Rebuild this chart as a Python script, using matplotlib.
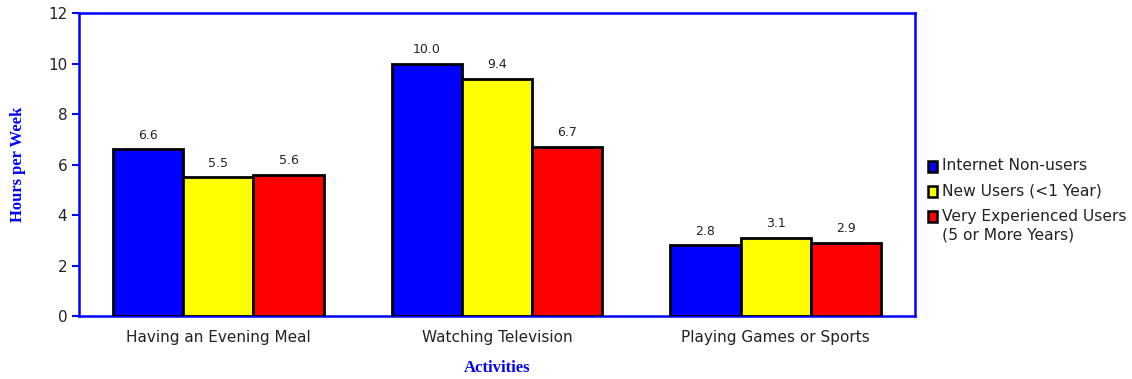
import matplotlib.pyplot as plt
from matplotlib.patches import Rectangle
import numpy as np

categories = ['Having an Evening Meal', 'Watching Television', 'Playing Games or Sports']
series = ['Internet Non-users', 'New Users (<1 Year)', 'Very Experienced Users\n(5 or More Years)']
non_users = [6.6, 10.0, 2.8]
new_users = [5.5, 9.4, 3.1]
experienced = [5.6, 6.7, 2.9]
colors = ['#0000ff', '#ffff00', '#ff0000']

plt.rcParams['font.family'] = ['DejaVu Sans']

W, H = 1132, 379
fig = plt.figure(figsize=(W / 100, H / 100), dpi=100)
ax = fig.add_axes([0.0698, 0.166, 0.7385, 0.7997])

x = np.arange(len(categories))
w = 0.252
for i, (vals, c) in enumerate(zip([non_users, new_users, experienced], colors)):
    pos = x + (i - 1) * w
    ax.bar(pos, vals, w, color=c, edgecolor='black', linewidth=2, zorder=3)
    for p, v in zip(pos, vals):
        ax.text(p, v + 0.3, f'{v:.1f}', ha='center', va='bottom', fontsize=9, color='#222222')

ax.set_xlim(-0.5, 2.5)
ax.set_ylim(0, 12)
ax.set_yticks(range(0, 13, 2))
ax.set_xticks(x)
ax.set_xticklabels(categories, fontsize=11, color='#222222')
ax.tick_params(axis='x', length=0, pad=10)
ax.tick_params(axis='y', colors='blue', labelcolor='#222222', labelsize=11, length=5, width=1.5)
for s in ax.spines.values():
    s.set_color('blue')
    s.set_linewidth(1.8)

ax.set_ylabel('Hours per Week', family='Liberation Serif', fontweight='bold', fontsize=12,
              color='blue', labelpad=16)
ax.set_xlabel('Activities', family='Liberation Serif', fontweight='bold', fontsize=12,
              color='blue', labelpad=11)

# legend drawn by hand so the swatch sits on the first line of a two-line label
ys = [166, 191, 216]
for c, name, yp in zip(colors, series, ys):
    fig.patches.append(Rectangle((928 / W, 1 - (yp + 5.5) / H), 9 / W, 11 / H,
                                 transform=fig.transFigure, facecolor=c,
                                 edgecolor='black', linewidth=1.8))
    for k, line in enumerate(name.split('\n')):
        fig.text(942 / W, 1 - (yp + 19 * k) / H, line, fontsize=11.2, color='#222222',
                 ha='left', va='center')

fig.savefig('out.png', dpi=100)
